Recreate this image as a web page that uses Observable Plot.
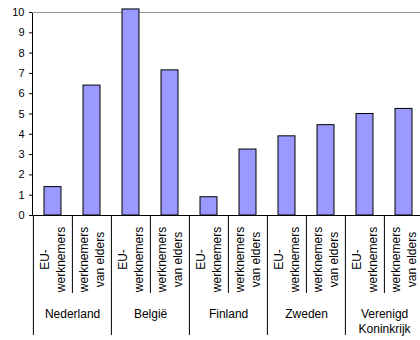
<!DOCTYPE html>
<html>
<head>
<meta charset="utf-8">
<script src="https://cdn.jsdelivr.net/npm/d3@7"></script>
<script src="https://cdn.jsdelivr.net/npm/@observablehq/plot@0.6"></script>
<style>
  html, body { margin: 0; padding: 0; background: #fff; }
  #chart { width: 420px; height: 340px; overflow: hidden; }
</style>
</head>
<body>
<div id="chart"></div>
<script>
// Data
const groups = ["Nederland", "België", "Finland", "Zweden", "Verenigd\nKoninkrijk"];
const seriesLabels = ["EU-\nwerknemers", "werknemers\nvan elders"];
const euValues = [1.4, 10.15, 0.9, 3.9, 5.0];
const eldersValues = [6.4, 7.15, 3.25, 4.45, 5.25];
const yTicks = [0, 1, 2, 3, 4, 5, 6, 7, 8, 9, 10];

// Build table
const rows = [];
groups.forEach((g, i) => {
  rows.push({key: g + "|0", group: g, series: seriesLabels[0], value: euValues[i], first: true});
  rows.push({key: g + "|1", group: g, series: seriesLabels[1], value: eldersValues[i], first: false});
});
const keys = rows.map(d => d.key);

// Layout
const W = 420, H = 340;
const mLeft = 32, mTop = 12, mBottom = 125;
const xRange = [32.3, 424.3];
const step = (xRange[1] - xRange[0]) / keys.length;
const plotH = H - mTop - mBottom;

const chart = Plot.plot({
  width: W,
  height: H,
  marginLeft: mLeft,
  marginTop: mTop,
  marginBottom: mBottom,
  marginRight: 0,
  style: {fontFamily: "'Liberation Sans', Arial, sans-serif", fontSize: "11px", color: "#000", background: "#fff", overflow: "visible"},
  x: {type: "band", domain: keys, range: xRange, paddingInner: 0.57, paddingOuter: 0.285, axis: null},
  y: {domain: [0, 10], ticks: yTicks, tickSize: 3, tickPadding: 5, line: true, label: null, tickFormat: d => d},
  marks: [
    Plot.ruleY([10], {stroke: "#999", strokeWidth: 1}),
    Plot.barY(rows, {x: "key", y: "value", fill: "#9999ff", stroke: "#000", strokeWidth: 1}),
    Plot.ruleY([0], {stroke: "#000"}),
    // separators between categories
    Plot.ruleX(rows.filter(d => !d.first), {x: "key", dx: -step / 2, insetTop: plotH, insetBottom: -78, stroke: "#000"}),
    // separators between groups
    Plot.ruleX(rows.filter(d => d.first), {x: "key", dx: -step / 2, insetTop: plotH, insetBottom: -120, stroke: "#000"}),
    Plot.ruleX(rows.slice(-1), {x: "key", dx: step / 2, insetTop: plotH, insetBottom: -120, stroke: "#000"}),
    // category labels
    Plot.text(rows, {x: "key", text: "series", rotate: -90, frameAnchor: "bottom", dy: 44, dx: -1, textAnchor: "middle", lineAnchor: "middle", lineHeight: 1.3, fontSize: 12, fill: "#000"}),
    // group labels
    Plot.text(rows.filter(d => d.first), {x: "key", text: "group", dx: step / 2, frameAnchor: "bottom", dy: 92, textAnchor: "middle", lineAnchor: "top", lineHeight: 1.25, fontSize: 12, fill: "#000"})
  ]
});
document.getElementById("chart").appendChild(chart);
</script>
</body>
</html>
